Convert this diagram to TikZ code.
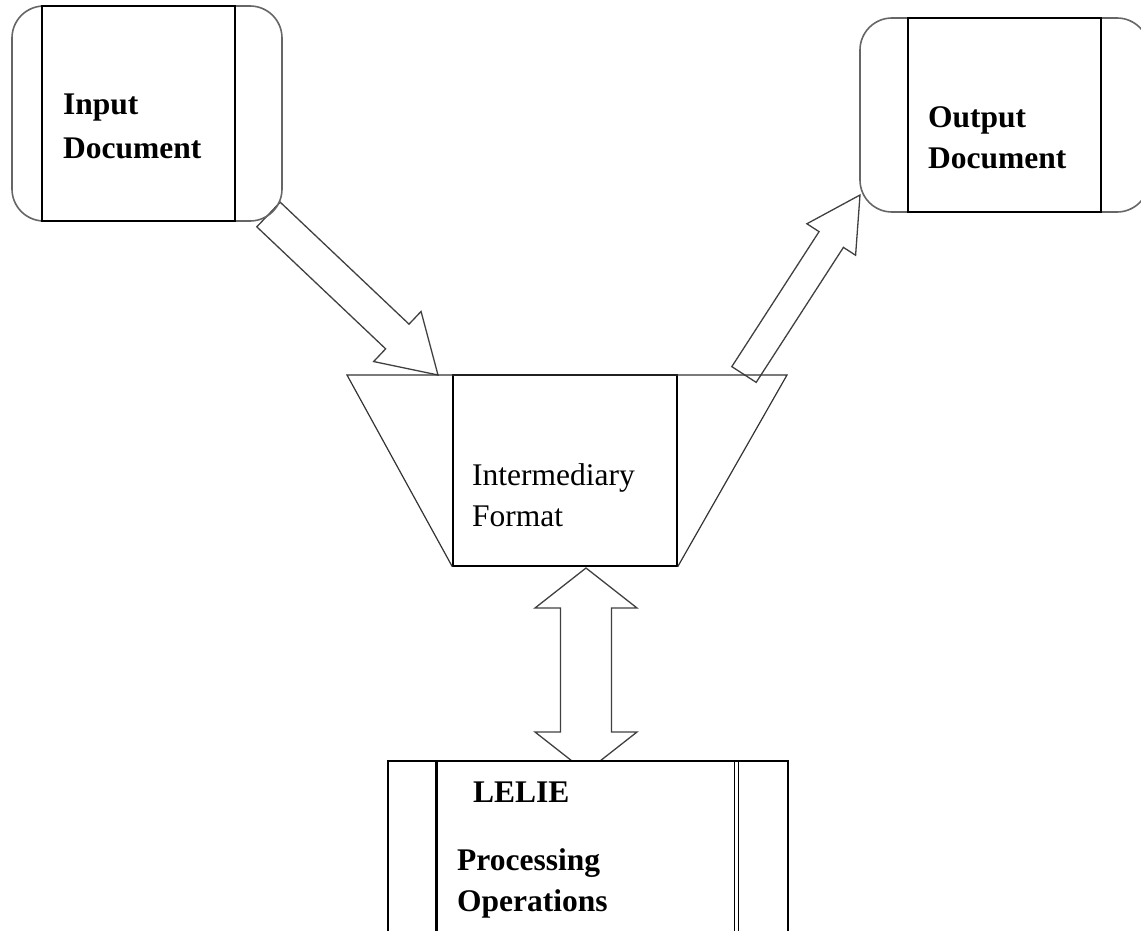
\documentclass[tikz,border=0pt]{standalone}
\usepackage{fontspec}
\setmainfont{Liberation Serif}
\usetikzlibrary{calc, positioning}

\newcommand{\fatarrow}[5]{%
  \path ($(#2)!#5!(#1)$) coordinate (fatH);
  \draw[fatline] ($(#1)!#3!90:(#2)$) -- ($(fatH)!#3!90:(#2)$) -- ($(fatH)!#4!90:(#2)$) -- (#2)
    -- ($(fatH)!#4!-90:(#2)$) -- ($(fatH)!#3!-90:(#2)$) -- ($(#1)!#3!-90:(#2)$) -- cycle;}
\newcommand{\fatdouble}[5]{%
  \path ($(#1)!#5!(#2)$) coordinate (fatA) ($(#2)!#5!(#1)$) coordinate (fatB);
  \draw[fatline] (#1) -- ($(fatA)!#4!90:(#2)$) -- ($(fatA)!#3!90:(#2)$) -- ($(fatB)!#3!90:(#2)$)
    -- ($(fatB)!#4!90:(#2)$) -- (#2) -- ($(fatB)!#4!-90:(#2)$) -- ($(fatB)!#3!-90:(#2)$)
    -- ($(fatA)!#3!-90:(#2)$) -- ($(fatA)!#4!-90:(#2)$) -- cycle;}

\begin{document}
\begin{tikzpicture}[x=1pt, y=-1pt,
    roundframe/.style={draw=black!60, line width=1.6pt, rounded corners=32pt, inner sep=0pt},
    docbox/.style={draw, line width=1.4pt, inner sep=0pt},
    fatline/.style={draw=black!75, line width=1.3pt, line join=miter},
    plainlbl/.style={font=\fontsize{31.5}{41}\selectfont, align=left, inner sep=0pt, anchor=base west},
    boldlbl/.style={plainlbl, font=\fontsize{31.5}{41}\selectfont\bfseries}]
  \useasboundingbox (0,0) rectangle (1141,931);

  \coordinate (inTail) at (268.5,214.5);
  \coordinate (inTip) at (438,375);
  \coordinate (outTail) at (744,374.5);
  \coordinate (outTip) at (860,195);
  \coordinate (dblTop) at (586,568);
  \coordinate (dblBot) at (586,772);
  \fatarrow{inTail}{inTip}{17pt}{34.5pt}{56pt}
  \fatarrow{outTail}{outTip}{14.5pt}{29pt}{53pt}
  \fatdouble{dblTop}{dblBot}{25.5pt}{51pt}{40pt}

  \node[roundframe, minimum width=270pt, minimum height=215pt] (inFrame) at (147,113.5) {};
  \node[docbox, minimum width=193pt, minimum height=215pt] (inBox) at (138.5,113.5) {};
  \node[boldlbl] (inText) at (63,159) {Input\\[3pt]Document};

  \node[roundframe, minimum width=289pt, minimum height=194pt] (outFrame) at (1004.5,115) {};
  \node[docbox, minimum width=193pt, minimum height=194pt] (outBox) at (1004.5,115) {};
  \node[boldlbl] (outText) at (928,168) {Output\\[-1pt]Document};

  \node[docbox, minimum width=224pt, minimum height=191pt] (fmtBox) at (565,470.5) {};
  \coordinate (trapL) at (347,375);
  \coordinate (trapR) at (787,375);
  \draw[line width=1.2pt, black!80] (fmtBox.south west) -- (trapL) -- (trapR) -- (fmtBox.south east);
  \node[plainlbl] (fmtText) at (472,526) {Intermediary\\Format};

  \node[docbox, fill=white, line width=1.2pt, minimum width=400pt, minimum height=229pt] (lelie) at (588,875.5) {};
  \draw[line width=2.6pt] ([xshift=49pt]lelie.north west) -- ([xshift=49pt]lelie.south west);
  \draw[line width=1.2pt] ([xshift=-54pt]lelie.north east) -- ([xshift=-54pt]lelie.south east);
  \draw[line width=1.2pt] ([xshift=-50pt]lelie.north east) -- ([xshift=-50pt]lelie.south east);
  \node[boldlbl] (lelieTitle) at (473,802) {LELIE};
  \node[boldlbl] (lelieOps) at (457,911) {Processing\\Operations};
\end{tikzpicture}
\end{document}
